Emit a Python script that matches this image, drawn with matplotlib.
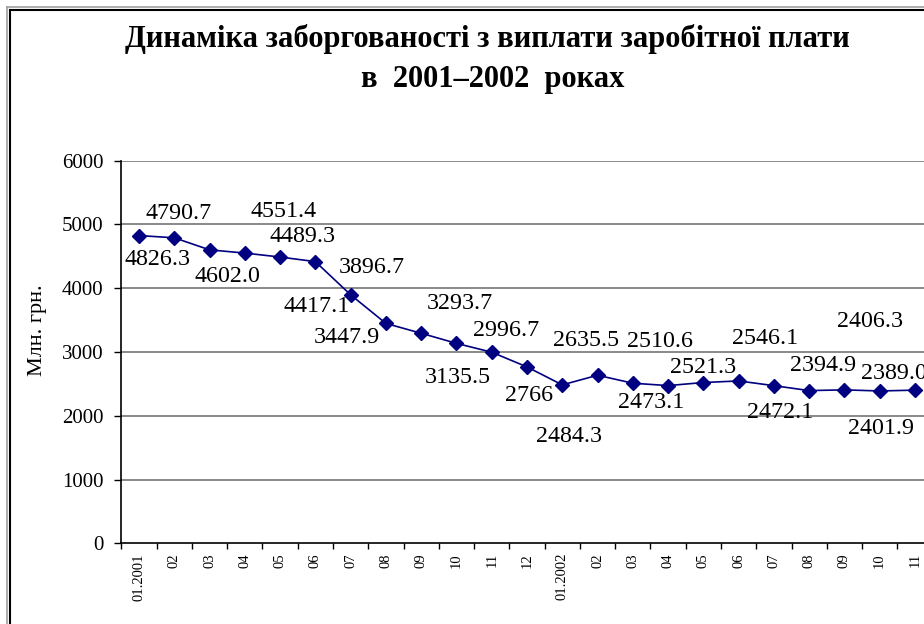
import matplotlib
matplotlib.use('Agg')
import matplotlib.pyplot as plt
from matplotlib.lines import Line2D
import numpy as np

# DATA
months = ['01.2001', '02', '03', '04', '05', '06', '07', '08', '09', '10', '11', '12',
          '01.2002', '02', '03', '04', '05', '06', '07', '08', '09', '10', '11']
debt = [4826.3, 4790.7, 4602.0, 4551.4, 4489.3, 4417.1, 3896.7, 3447.9, 3293.7,
        3135.5, 2996.7, 2766, 2484.3, 2635.5, 2510.6, 2473.1, 2521.3, 2546.1,
        2472.1, 2394.9, 2406.3, 2389.0, 2401.9]
debt_labels = ['4826.3', '4790.7', '4602.0', '4551.4', '4489.3', '4417.1', '3896.7',
               '3447.9', '3293.7', '3135.5', '2996.7', '2766', '2484.3', '2635.5',
               '2510.6', '2473.1', '2521.3', '2546.1', '2472.1', '2394.9', '2406.3',
               '2389.0', '2401.9']

# label offsets from the marker, in pixels (dx right, dy down) - hand placed like in Excel
label_dx = [18, 4, 18, 39, 22, 1, 21, -39, 39, 1, 14, 2, 7, -11, 27, -17, 0, 26, 6, 14, 26, 14, -34]
label_dy = [24, -24, 27, -42, -21, 45, -27, 14, -30, 34, -22, 29, 52, -35, -42, 17, -15, -42, 27, -25, -68, -17, 38]

SERIF = ['Liberation Serif', 'DejaVu Serif']
NAVY = '#000080'
GRID = '#808080'

W, H = 924, 624
fig = plt.figure(figsize=(W / 100, H / 100), dpi=100)

# outer chart frame (right/bottom edges are cut off in the reference)
fig.add_artist(Line2D([7 / W, 7 / W], [-0.1, 1 - 7 / H], color='#a0a0a0', lw=1.2,
                      transform=fig.transFigure))
fig.add_artist(Line2D([7 / W, 1.1], [1 - 7 / H, 1 - 7 / H], color='#a0a0a0', lw=1.2,
                      transform=fig.transFigure))
fig.add_artist(Line2D([9.5 / W, 9.5 / W], [-0.1, 1 - 9.5 / H], color='black', lw=1.5,
                      transform=fig.transFigure))
fig.add_artist(Line2D([9.5 / W, 1.1], [1 - 9.5 / H, 1 - 9.5 / H], color='black', lw=1.5,
                      transform=fig.transFigure))

ax = fig.add_axes([121.4 / W, (H - 543.3) / H, 811.2 / W, 382.6 / H])

x = np.arange(len(debt))
ax.plot(x, debt, color=NAVY, lw=1.2, marker='D', markersize=7,
        markerfacecolor=NAVY, markeredgecolor=NAVY, zorder=3)

for i in range(len(debt)):
    ax.annotate(debt_labels[i], (x[i], debt[i]), xytext=(label_dx[i], -label_dy[i]),
                textcoords='offset pixels', ha='center', va='center',
                fontsize=17.3, family=SERIF, color='black', zorder=4)

ax.set_xlim(-0.5, len(debt) - 0.5)
ax.set_ylim(0, 6000)
ax.set_yticks(np.arange(0, 6001, 1000))
ax.set_yticklabels([str(v) for v in range(0, 6001, 1000)], family=SERIF, fontsize=15)
ax.set_xticks(x)
ax.set_xticklabels(months, rotation=90, family=SERIF, fontsize=10.5)
ax.set_xticks(np.arange(-0.5, len(debt), 1), minor=True)
ax.tick_params(axis='x', which='major', length=0, pad=7)
ax.tick_params(axis='x', which='minor', length=4, width=1, direction='out')
ax.tick_params(axis='y', length=5, width=1, direction='out', pad=8)

for v in range(1000, 6001, 1000):
    ax.axhline(v, color=GRID, lw=1.3, zorder=1)

for s in ['top', 'right']:
    ax.spines[s].set_visible(False)
for s in ['left', 'bottom']:
    ax.spines[s].set_linewidth(1.2)
    ax.spines[s].set_zorder(2)

ax.set_ylabel('Млн. грн.', family=SERIF, fontsize=16, va='center')
ax.yaxis.set_label_coords((38 - 121.4) / 811.2, (543.3 - 330) / 382.6)

fig.text(487 / W, 1 - 39 / H, 'Динаміка заборгованості з виплати заробітної плати',
         ha='center', va='center', family=SERIF, fontweight='bold', fontsize=22)
fig.text(493 / W, 1 - 79 / H, 'в  2001–2002  роках',
         ha='center', va='center', family=SERIF, fontweight='bold', fontsize=22)

fig.savefig('out.png', dpi=100)
